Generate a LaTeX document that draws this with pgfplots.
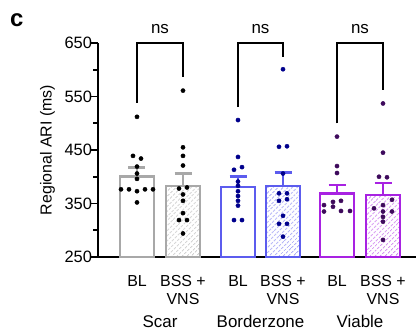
\documentclass[border=0pt]{standalone}
\usepackage{fontspec}
\setmainfont{Liberation Sans}
\usepackage{pgfplots}
\pgfplotsset{compat=1.18}
\usetikzlibrary{patterns.meta}
\definecolor{cgray}{RGB}{168,168,168}
\definecolor{cblue}{RGB}{92,92,238}
\definecolor{cpurp}{RGB}{168,34,226}
\definecolor{dblue}{RGB}{0,0,140}
\definecolor{dpurp}{RGB}{62,10,92}
\begin{document}
\begin{tikzpicture}
\begin{axis}[
 scale only axis, width=318bp, height=214bp,
 xmin=98, xmax=416, ymin=250, ymax=650,
 axis lines=left, axis line style={-, line width=1.8bp},
 clip mode=individual,
 ytick={250,350,450,550,650}, minor ytick={300,400,500,600},
 tick align=outside, major tick length=7bp, minor tick length=4.5bp,
 tick style={black, line width=1.8bp},
 xtick={137,183,238,283,337,383},
 xticklabels={BL,{BSS +\\VNS},BL,{BSS +\\VNS},BL,{BSS +\\VNS}},
 xtick style={draw=none},
 xticklabel style={align=center, font=\fontsize{16}{17.5}\selectfont, yshift=-8bp},
 yticklabel style={font=\fontsize{16.5}{18}\selectfont, xshift=4.5bp},
 /pgf/number format/assume math mode=true,
 ylabel={Regional ARI (ms)},
 ylabel style={font=\fontsize{16}{18}\selectfont, at={(axis description cs:-0.159,0.5)}, anchor=center},
]
% bars
\addplot[ybar, bar width=34, bar shift=0pt, draw=cgray, line width=2.6bp, fill=white] coordinates {(137,401)};
\addplot[ybar, bar width=34, bar shift=0pt, draw=cgray, line width=2.6bp, pattern={Lines[angle=45,distance=3.6bp,line width=0.9bp]}, pattern color=cgray!85] coordinates {(183,383)};
\addplot[ybar, bar width=34, bar shift=0pt, draw=cblue, line width=2.6bp, fill=white] coordinates {(238,381)};
\addplot[ybar, bar width=34, bar shift=0pt, draw=cblue, line width=2.6bp, pattern={Lines[angle=45,distance=3.6bp,line width=0.9bp]}, pattern color=cblue!80] coordinates {(283,383)};
\addplot[ybar, bar width=34, bar shift=0pt, draw=cpurp, line width=2.6bp, fill=white] coordinates {(337,369)};
\addplot[ybar, bar width=34, bar shift=0pt, draw=cpurp, line width=2.6bp, pattern={Lines[angle=45,distance=3.6bp,line width=0.9bp]}, pattern color=cpurp!80] coordinates {(383,366)};
% error bars (stem and cap)
\addplot[cgray, line width=2.6bp] coordinates {(137,401) (137,417.6)};
\addplot[cgray, line width=2.6bp] coordinates {(128.5,417.6) (145.5,417.6)};
\addplot[cgray, line width=2.6bp] coordinates {(183,383) (183,406)};
\addplot[cgray, line width=2.6bp] coordinates {(174.5,406) (191.5,406)};
\addplot[cblue, line width=2.6bp] coordinates {(238,381) (238,400)};
\addplot[cblue, line width=2.6bp] coordinates {(229.5,400) (246.5,400)};
\addplot[cblue, line width=2.6bp] coordinates {(283,383) (283,408)};
\addplot[cblue, line width=2.6bp] coordinates {(274.5,408) (291.5,408)};
\addplot[cpurp, line width=2.6bp] coordinates {(337,369) (337,384.6)};
\addplot[cpurp, line width=2.6bp] coordinates {(328.5,384.6) (345.5,384.6)};
\addplot[cpurp, line width=2.6bp] coordinates {(383,366) (383,388)};
\addplot[cpurp, line width=2.6bp] coordinates {(374.5,388) (391.5,388)};
% dots
\pgfplotsset{dots/.style={only marks, mark=*, mark size=2.1bp, #1, mark options={#1}}}
\addplot[dots=black] coordinates {(137,512) (133,439) (141,434) (137,419) (137,406) (137,396) (121,376.5) (129,376.5) (145,376.5) (153,376.5) (137,373) (137,352)};
\addplot[dots=black] coordinates {(183,561) (183,455) (183,439) (183,421) (179,378) (187,380) (183,367) (183,355) (183,332) (179,319) (187,319) (183,294)};
\addplot[dots=dblue] coordinates {(238,506) (238,437) (234,413) (242,418) (238,391) (238,383) (238,373) (238,364) (238,355) (238,346) (234,319) (242,319)};
\addplot[dots=dblue] coordinates {(283,601) (279,456) (287,457) (283,406) (279,369) (287,369) (279,355) (287,358) (283,327) (279,312) (287,312) (283,288)};
\addplot[dots=dpurp] coordinates {(337,475) (337,420) (337,407) (333,353) (341,355) (324,347) (333,344) (324,335) (341,336) (350,336)};
\addplot[dots=dpurp] coordinates {(383,537) (383,445) (379,400) (387,399) (392,357) (383,347) (374,341) (383,335) (392,335) (383,325) (383,316) (383,282)};
% brackets
\draw[black, line width=1.8bp] (axis cs:137,538) -- (axis cs:137,650) -- (axis cs:183,650) -- (axis cs:183,586);
\draw[black, line width=1.8bp] (axis cs:238,530) -- (axis cs:238,650) -- (axis cs:283,650) -- (axis cs:283,624);
\draw[black, line width=1.8bp] (axis cs:337,500) -- (axis cs:337,650) -- (axis cs:383,650) -- (axis cs:383,562);
\node[anchor=base, font=\fontsize{17}{18}\selectfont] at (axis cs:160,650) [yshift=10bp] {ns};
\node[anchor=base, font=\fontsize{17}{18}\selectfont] at (axis cs:260.5,650) [yshift=10bp] {ns};
\node[anchor=base, font=\fontsize{17}{18}\selectfont] at (axis cs:360,650) [yshift=10bp] {ns};
% group labels
\node[anchor=base, font=\fontsize{17}{18}\selectfont] at (axis cs:160,250) [yshift=-70bp] {Scar};
\node[anchor=base, font=\fontsize{17}{18}\selectfont] at (axis cs:260.5,250) [yshift=-70bp] {Borderzone};
\node[anchor=base, font=\fontsize{17}{18}\selectfont] at (axis cs:360,250) [yshift=-70bp] {Viable};
\node[anchor=north west, inner sep=0pt, font=\fontsize{24}{26}\selectfont\bfseries] at (axis description cs:-0.277,1.138) {c};
\end{axis}
\path[use as bounding box] ([xshift=-98bp,yshift=-78bp]current axis.south west) rectangle ([xshift=321bp,yshift=257bp]current axis.south west);
\end{tikzpicture}
\end{document}
